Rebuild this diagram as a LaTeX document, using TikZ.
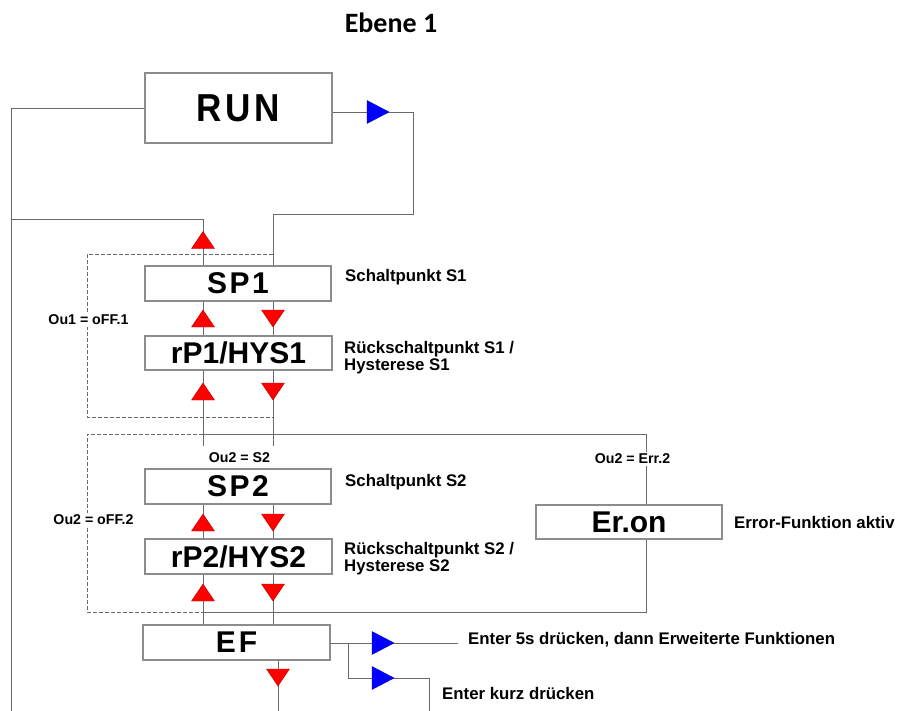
\documentclass[tikz,border=0pt]{standalone}
\usepackage{fontspec}
\setmainfont{Liberation Sans}
\newfontfamily\titlefont{Carlito}
\usepackage{graphicx}
\definecolor{ln}{RGB}{105,105,105}
\definecolor{bx}{RGB}{140,140,140}
\definecolor{redtri}{RGB}{255,0,0}
\definecolor{bluetri}{RGB}{0,0,255}
\begin{document}
\begin{tikzpicture}[x=1pt,y=-1pt,
  box/.style={draw=bx, line width=1.3pt, fill=white, inner sep=0pt,
    minimum width=187pt, minimum height=35pt,
    font=\bfseries\fontsize{30}{30}\selectfont},
  conn/.style={draw=ln, line width=0.95pt},
  dconn/.style={draw=ln, line width=0.85pt, dash pattern=on 4pt off 2pt},
  desc/.style={anchor=west, inner sep=0pt, align=left,
    font=\bfseries\fontsize{16.8}{17}\selectfont},
  lab/.style={inner sep=1.5pt, fill=white, font=\bfseries\fontsize{14.2}{14}\selectfont},
  redup/.pic={\path[fill=redtri, draw=red!75!black, line width=0.4pt]
      (-11.5,8.5) -- (11.5,8.5) -- (0,-8.5) -- cycle;},
  reddown/.pic={\path[fill=redtri, draw=red!75!black, line width=0.4pt]
      (-11.5,-8.5) -- (11.5,-8.5) -- (0,8.5) -- cycle;},
  blueright/.pic={\path[fill=bluetri, draw=blue!75!black, line width=0.4pt]
      (-11,-11.5) -- (11,0) -- (-11,11.5) -- cycle;}
]
\useasboundingbox (0,0) rectangle (901,711);

% title
\node[font=\titlefont\bfseries\fontsize{28}{28}\selectfont] (title) at (391,23) {Ebene 1};

% column / junction coordinates
\coordinate (ca) at (203,0);
\coordinate (cb) at (273,0);
\coordinate (bl) at (11,711);
\coordinate (j1) at (11,219);
\coordinate (rr) at (413,112);
\coordinate (rb) at (413,214);
\coordinate (d1t) at (273,254);
\coordinate (d1b) at (273,417);
\coordinate (s2a) at (203,446);
\coordinate (s2b) at (273,446);
\coordinate (f2t) at (203,434);
\coordinate (f2b) at (203,612);
\coordinate (e1) at (458,643);
\coordinate (br) at (348,643);
\coordinate (e2) at (429,678);
\coordinate (e2b) at (429,711);
\coordinate (efb) at (278,711);

% boxes
\node[box, minimum height=70pt] (run) at (238.5,108)
  {\scalebox{0.9}[1]{\fontsize{39}{39}\selectfont R\kern4pt U\kern4pt N}};
\node[box, minimum width=186pt] (sp1) at (238,283.5) {S\kern2.5pt P\kern2.5pt 1};
\node[box, minimum height=34pt] (rp1) at (238.5,353) {rP1/HYS1};
\node[box, minimum width=186pt] (sp2) at (238,486.5) {S\kern2.5pt P\kern2.5pt 2};
\node[box] (rp2) at (238.5,556.5) {rP2/HYS2};
\node[box, minimum width=186pt, minimum height=34pt] (eron) at (629,522) {Er.on};
\node[box] (ef) at (236.5,642.5) {E\kern3pt F};

% connectors
\draw[conn] (run.west) -| (bl);
\draw[conn] (j1) -| (ca |- sp1.north);
\draw[conn] ([yshift=-4pt]run.east) -- (rr) -- (rb) -| (cb |- sp1.north);
\draw[conn] (ca |- sp1.south) -- (ca |- rp1.north);
\draw[conn] (cb |- sp1.south) -- (cb |- rp1.north);
\draw[conn] (ca |- rp1.south) -- (s2a);
\draw[conn] (cb |- rp1.south) -- (s2b);
\draw[conn] (ca |- sp2.south) -- (ca |- rp2.north);
\draw[conn] (cb |- sp2.south) -- (cb |- rp2.north);
\draw[conn] (ca |- rp2.south) -- (ca |- ef.north);
\draw[conn] (cb |- rp2.south) -- (cb |- ef.north);
\draw[conn] ([xshift=41.5pt]ef.south) -- (efb);
\draw[conn] (ef.east |- e1) -- (e1);
\draw[conn] (br) |- (e2) -- (e2b);

% frames
\draw[dconn] (d1t) -| (87,417) -- (d1b);
\draw[dconn] (f2t) -| (87,612) -- (f2b);
\draw[conn] (f2t) -| ([xshift=17pt]eron.north);
\draw[conn] ([xshift=17pt]eron.south) |- (f2b);

% triangles
\pic at (203,240) {redup};
\pic at (203,318.5) {redup};
\pic at (273,318.5) {reddown};
\pic at (203,391.5) {redup};
\pic at (273,391.5) {reddown};
\pic at (203,522.5) {redup};
\pic at (273,522.5) {reddown};
\pic at (203,592.5) {redup};
\pic at (273,592.5) {reddown};
\pic at (278,677.5) {reddown};
\pic at (378,112) {blueright};
\pic at (383,643) {blueright};
\pic at (383,678) {blueright};

% labels
\node[lab] (l1) at (88.5,320) {Ou1 = oFF.1};
\node[lab] (l2) at (93.5,520) {Ou2 = oFF.2};
\node[lab, fill=none] (l3) at (239.5,458) {Ou2 = S2};
\node[lab] (l4) at (632.5,459) {Ou2 = Err.2};

% descriptions
\node[desc] (t1) at (345,277) {Schaltpunkt S1};
\node[desc] (t2) at (344,357.5) {Rückschaltpunkt S1 /\\Hysterese S1};
\node[desc] (t3) at (345,482) {Schaltpunkt S2};
\node[desc] (t4) at (344,559) {Rückschaltpunkt S2 /\\Hysterese S2};
\node[desc] (t5) at (734,522) {Error-Funktion aktiv};
\node[desc] (t6) at (468,640) {Enter 5s drücken, dann Erweiterte Funktionen};
\node[desc] (t7) at (442,693) {Enter kurz drücken};
\end{tikzpicture}
\end{document}
